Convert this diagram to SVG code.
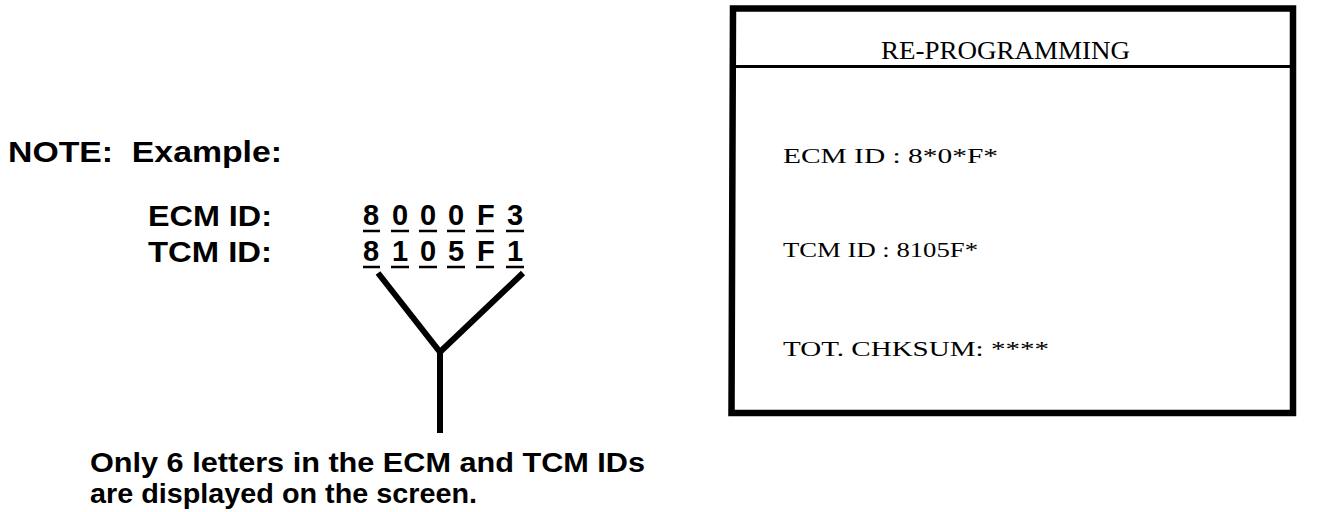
<svg xmlns="http://www.w3.org/2000/svg" width="1328" height="512" viewBox="0 0 1328 512">
<style>
.b{font-family:"Liberation Sans",Arial,sans-serif;font-weight:bold;fill:#000}
.s{font-family:"Liberation Serif","Times New Roman",serif;fill:#000}
.ul{stroke:#000;stroke-width:2.5}
.ln{stroke:#000;stroke-width:6;fill:none}
</style>
<rect width="1328" height="512" fill="#fff"/>
<g id="note">
<text class="b" x="8" y="162" font-size="30" textLength="274" lengthAdjust="spacingAndGlyphs" xml:space="preserve">NOTE:  Example:</text>
</g>
<g id="ids">
<text class="b" x="148" y="226" font-size="29" textLength="124" lengthAdjust="spacingAndGlyphs">ECM ID:</text>
<text class="b" x="148" y="262" font-size="29" textLength="124" lengthAdjust="spacingAndGlyphs">TCM ID:</text>
<g font-size="29" class="b">
<text class="b" x="363" y="225">8</text><text class="b" x="392" y="225">0</text><text class="b" x="420" y="225">0</text><text class="b" x="448" y="225">0</text><text class="b" x="477" y="225">F</text><text class="b" x="507" y="225">3</text>
<text class="b" x="363" y="261">8</text><text class="b" x="392" y="261">1</text><text class="b" x="420" y="261">0</text><text class="b" x="448" y="261">5</text><text class="b" x="477" y="261">F</text><text class="b" x="507" y="261">1</text>
</g>
<path class="ul" d="M363 231H380M391 231H409M419 231H437M447 231H465M476 231H494M506 231H524M363 267H380M391 267H409M419 267H437M447 267H465M476 267H494M506 267H524"/>
</g>
<g id="connectors">
<path class="ln" d="M378 273L440 352L523 273M440 352V433"/>
</g>
<g id="caption">
<text class="b" x="90" y="472" font-size="28" textLength="555" lengthAdjust="spacingAndGlyphs">Only 6 letters in the ECM and TCM IDs</text>
<text class="b" x="90" y="503" font-size="28" textLength="387" lengthAdjust="spacingAndGlyphs">are displayed on the screen.</text>
</g>
<g id="screen">
<path d="M733 8.5H1293V413H731.5Z" stroke="#000" stroke-width="6.5" fill="none"/>
<line x1="734" y1="66.5" x2="1293" y2="66.5" stroke="#000" stroke-width="3"/>
<text class="s" x="881" y="59" font-size="25" textLength="249" lengthAdjust="spacingAndGlyphs">RE-PROGRAMMING</text>
<text class="s" x="783" y="163" font-size="22" textLength="215" lengthAdjust="spacingAndGlyphs">ECM ID : 8*0*F*</text>
<text class="s" x="783" y="257" font-size="22" textLength="195" lengthAdjust="spacingAndGlyphs">TCM ID : 8105F*</text>
<text class="s" x="783" y="356" font-size="22" textLength="266" lengthAdjust="spacingAndGlyphs">TOT. CHKSUM: ****</text>
</g>
</svg>
